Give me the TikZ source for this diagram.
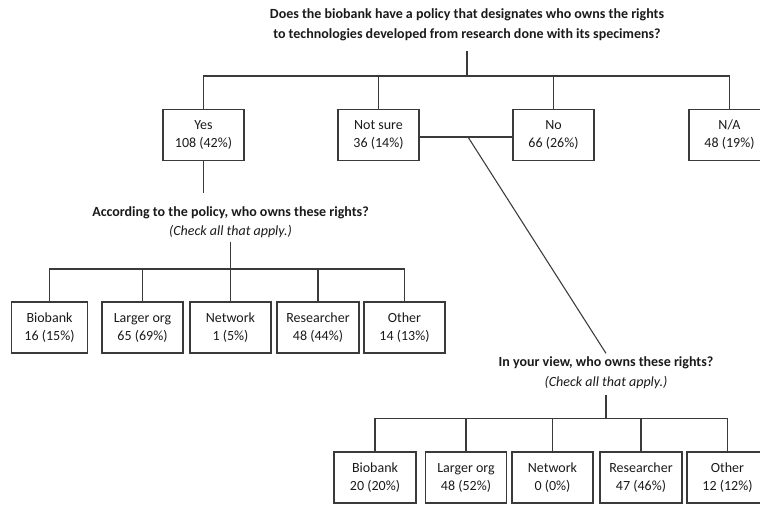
\documentclass[tikz,border=0pt]{standalone}
\usepackage{fontspec}
\setmainfont{Carlito}
\definecolor{ink}{HTML}{1A1A1A}
\definecolor{line}{HTML}{3A3A3A}

\begin{document}
\begin{tikzpicture}[
  x=0.75pt,
  y=-0.75pt,
  text=ink,
  answer/.style={
    draw=line,
    line width=0.8pt,
    align=center,
    minimum width=60.75pt,
    minimum height=38.25pt,
    inner sep=0pt,
    font=\fontsize{10.5}{13.5}\selectfont
  },
  question/.style={
    align=center,
    inner sep=2.5pt,
    font=\fontsize{10.5}{15}\selectfont\bfseries
  },
  link/.style={
    draw=line,
    line width=0.8pt
  }
]
\useasboundingbox (0,0) rectangle (760,504);

% Main question and the four answers
\node[question] (q1) at (467,25) {Does the biobank have a policy that designates who owns the rights\\
  to technologies developed from research done with its specimens?};

\node[answer] (yes) at (203.5,135) {Yes\\108 (42\%)};
\node[answer] (notsure) at (378.5,135) {Not sure\\36 (14\%)};
\node[answer] (no) at (553.5,135) {No\\66 (26\%)};
\node[answer] (na) at (729.5,135) {N/A\\48 (19\%)};

\coordinate (top bar) at (467,76);
\draw[link, shorten <=5pt] (q1.south) -- (top bar);
\foreach \ans in {yes,notsure,no,na}
  \draw[link] (top bar) -| (\ans.north);

% "Not sure" and "No" lead on to the second follow-up question
\draw[link] ([yshift=-1.5pt]notsure.east) -- ([yshift=-1.5pt]no.west);
\coordinate (split) at (468,137);

% Follow-up for "Yes"
\node[question, font=\fontsize{10.5}{14.25}\selectfont\bfseries] (q2) at (230.5,222.5) {According to the policy, who owns these rights?\\
  \mdseries\itshape (Check all that apply.)};
\coordinate (yes foot) at (203.5,193);
\draw[link] (yes) -- (yes foot);

\node[answer, minimum width=57pt] (pa1) at (49.5,327.5) {Biobank\\16 (15\%)};
\node[answer] (pa2) at (142.5,327.5) {Larger org\\65 (69\%)};
\node[answer] (pa3) at (230.5,327.5) {Network\\1 (5\%)};
\node[answer, minimum width=61.5pt] (pa4) at (318,327.5) {Researcher\\48 (44\%)};
\node[answer] (pa5) at (404.5,327.5) {Other\\14 (13\%)};

\coordinate (policy bar) at (230.5,269);
\draw[link] (q2) -- (policy bar);
\foreach \ans in {pa1,pa2,pa3,pa4,pa5}
  \draw[link] (policy bar) -| (\ans.north);

% Follow-up for "Not sure" / "No"
\node[question] (q3) at (606,373) {In your view, who owns these rights?\\
  \mdseries\itshape (Check all that apply.)};
\draw[link] (split) -- (q3.north);

\node[answer, minimum width=61.5pt] (va1) at (375,477.5) {Biobank\\20 (20\%)};
\node[answer] (va2) at (466,477.5) {Larger org\\48 (52\%)};
\node[answer] (va3) at (552.5,477.5) {Network\\0 (0\%)};
\node[answer, minimum width=61.5pt] (va4) at (641,477.5) {Researcher\\47 (46\%)};
\node[answer] (va5) at (727.5,477.5) {Other\\12 (12\%)};

\coordinate (view bar) at (606,418.5);
\draw[link, shorten <=2pt] (q3) -- (view bar);
\foreach \ans in {va1,va2,va3,va4,va5}
  \draw[link] (view bar) -| (\ans.north);

\end{tikzpicture}
\end{document}
